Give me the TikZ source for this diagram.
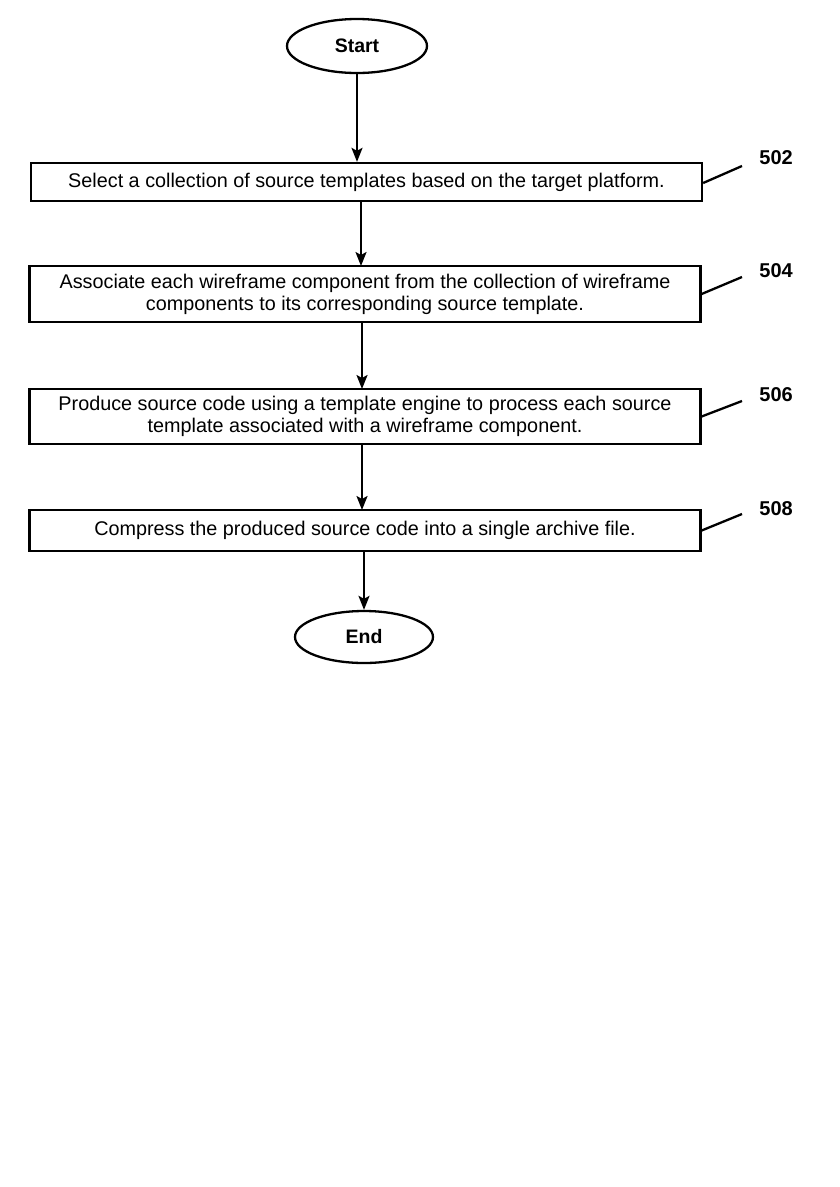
\documentclass[tikz,border=0pt]{standalone}
\usepackage{fontspec}
\setmainfont{Liberation Sans}
\usetikzlibrary{shapes.geometric,arrows.meta}
\begin{document}
\begin{tikzpicture}[x=1pt,y=-1pt,
  line width=2.3pt,
  terminal/.style={ellipse,draw,minimum width=140pt,minimum height=54pt,inner sep=0pt,font=\fontsize{19.5}{22}\selectfont\bfseries},
  stepbox/.style={draw,rectangle,minimum width=671pt,inner sep=0pt,align=center,font=\fontsize{19.8}{22}\selectfont},
  flow/.style={-{Stealth[length=14pt,width=11pt,inset=3pt]},line width=2.3pt},
  reflabel/.style={font=\fontsize{20}{22}\selectfont\bfseries,anchor=west},
  leader/.style={line width=2.3pt}]
\useasboundingbox (0,0) rectangle (840,1187);
\node[terminal] (start) at (357,46) {Start};
\node[stepbox,minimum height=38pt] (s1) at (366.5,182) {Select a collection of source templates based on the target platform.};
\node[stepbox,minimum height=56pt] (s2) at (365,294) {Associate each wireframe component from the collection of wireframe\\components to its corresponding source template.};
\node[stepbox,minimum height=55pt] (s3) at (365,416.5) {Produce source code using a template engine to process each source\\template associated with a wireframe component.};
\node[stepbox,minimum height=41pt] (s4) at (365,530.5) {Compress the produced source code into a single archive file.};
\node[terminal,minimum width=138pt,minimum height=52pt] (end) at (364,637) {End};
\draw[flow] (start.south) -- (start.south |- s1.north);
\draw[flow] (361,201) -- (361,266);
\draw[flow] (362,322) -- (362,389);
\draw[flow] (362,444) -- (362,510);
\draw[flow] (s4.south -| end.north) -- (end.north);
\coordinate (l1) at (742,166);
\coordinate (l2) at (742,277);
\coordinate (l3) at (742,401);
\coordinate (l4) at (742,514);
\draw[leader] (s1.east) ++(0,1) -- (l1);
\draw[leader] (s2.east) -- (l2);
\draw[leader] (s3.east) -- (l3);
\draw[leader] (s4.east) -- (l4);
\node[reflabel] (n1) at (755,158) {502};
\node[reflabel] (n2) at (755,271) {504};
\node[reflabel] (n3) at (755,395) {506};
\node[reflabel] (n4) at (755,509) {508};
\end{tikzpicture}
\end{document}
